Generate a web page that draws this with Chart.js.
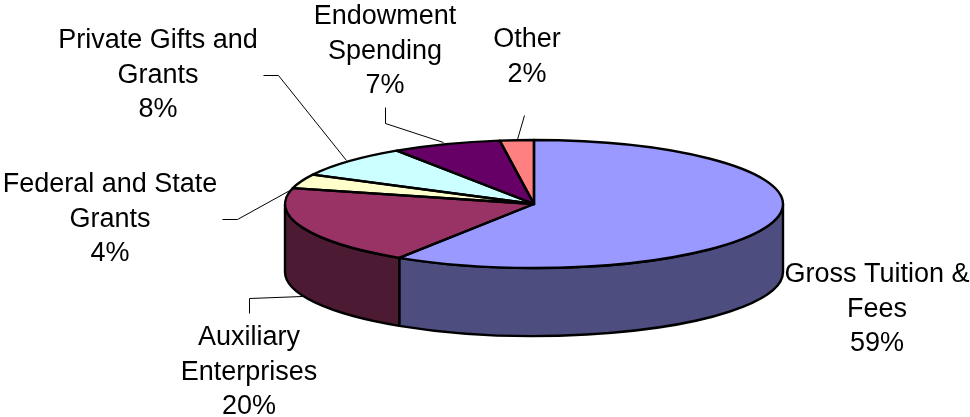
<!DOCTYPE html>
<html>
<head>
<meta charset="utf-8">
<style>html,body{margin:0;padding:0;background:#fff}canvas{display:block}</style>
<script src="https://cdn.jsdelivr.net/npm/chart.js@4"></script>
</head>
<body>
<canvas id="c" width="970" height="417"></canvas>
<script>
const categories = ["Gross Tuition & Fees","Auxiliary Enterprises","Federal and State Grants","Private Gifts and Grants","Endowment Spending","Other"];
const shares = [59.1,19.9,3.6,8.1,7.1,2.2];
const labelLines = [["Gross Tuition &","Fees"],["Auxiliary","Enterprises"],["Federal and State","Grants"],["Private Gifts and","Grants"],["Endowment","Spending"],["Other"]];
const topColors = ["#9999FF","#993366","#FFFFCC","#CCFFFF","#660066","#FF8080"];
const wallColors = ["#4D4D80","#4D1A33","#808066","#668080","#330033","#804040"];
const labelPlaces = [[877,282],[249,345],[110,192],[158,48],[385,24],[527,47]];
const leaders = [null,[[249,313],[249,298],[302,296]],[[222,219],[237,219],[293,188]],[[263,75],[278,75],[346,160]],[[385,107],[385,123],[443,142]],[[524,115],[517,139]]];
const RX=249, RY=64, DEPTH=68, LINE=34.7;

function ellipsePath(ctx,x,y,a0,a1,ccw){ctx.ellipse(x,y,RX,RY,0,a0,a1,!!ccw);}

const pie3d = {
  id:'pie3d',
  beforeDatasetsDraw(chart){
    const ctx=chart.ctx, arcs=chart.getDatasetMeta(0).data;
    ctx.save();
    ctx.lineWidth=2.4; ctx.strokeStyle='#000'; ctx.lineJoin='round';
    arcs.forEach((el,i)=>{
      const a0=Math.max(el.startAngle,0), a1=Math.min(el.endAngle,Math.PI);
      if(a1<=a0) return;
      ctx.beginPath();
      ellipsePath(ctx,el.x,el.y,a0,a1);
      ellipsePath(ctx,el.x,el.y+DEPTH,a1,a0,true);
      ctx.closePath();
      ctx.fillStyle=wallColors[i];
      ctx.fill(); ctx.stroke();
    });
    ctx.restore();
    const el=arcs[0], r=el.outerRadius;
    ctx.save();
    ctx.translate(el.x,el.y);
    ctx.scale(RX/r,RY/r);
    ctx.translate(-el.x,-el.y);
  },
  afterDatasetsDraw(chart){
    const ctx=chart.ctx, arcs=chart.getDatasetMeta(0).data;
    ctx.restore();
    ctx.save();
    ctx.lineWidth=2.4; ctx.strokeStyle='#000'; ctx.lineJoin='round';
    arcs.forEach(el=>{
      ctx.beginPath();
      ctx.moveTo(el.x,el.y);
      ellipsePath(ctx,el.x,el.y,el.startAngle,el.endAngle);
      ctx.closePath();
      ctx.stroke();
    });
    ctx.lineWidth=1; ctx.lineJoin='miter';
    leaders.forEach(p=>{
      if(!p) return;
      ctx.beginPath();
      p.forEach((q,i)=>i?ctx.lineTo(q[0]+.5,q[1]+.5):ctx.moveTo(q[0]+.5,q[1]+.5));
      ctx.stroke();
    });
    ctx.fillStyle='#000'; ctx.textAlign='center'; ctx.textBaseline='alphabetic';
    ctx.font='27px "Liberation Sans", Arial, sans-serif';
    labelLines.forEach((lines,i)=>{
      const [x,y]=labelPlaces[i];
      lines.concat(Math.round(shares[i])+'%').forEach((t,k)=>ctx.fillText(t,x,Math.round(y+k*LINE)));
    });
    ctx.restore();
  }
};

new Chart(document.getElementById('c'),{
  type:'pie',
  data:{labels:categories,datasets:[{data:shares,backgroundColor:topColors,borderWidth:0,hoverOffset:0}]},
  options:{
    responsive:false,animation:false,
    layout:{padding:{left:404,right:306,top:74,bottom:83}},
    plugins:{legend:{display:false},tooltip:{enabled:false}}
  },
  plugins:[pie3d]
});
</script>
</body>
</html>
